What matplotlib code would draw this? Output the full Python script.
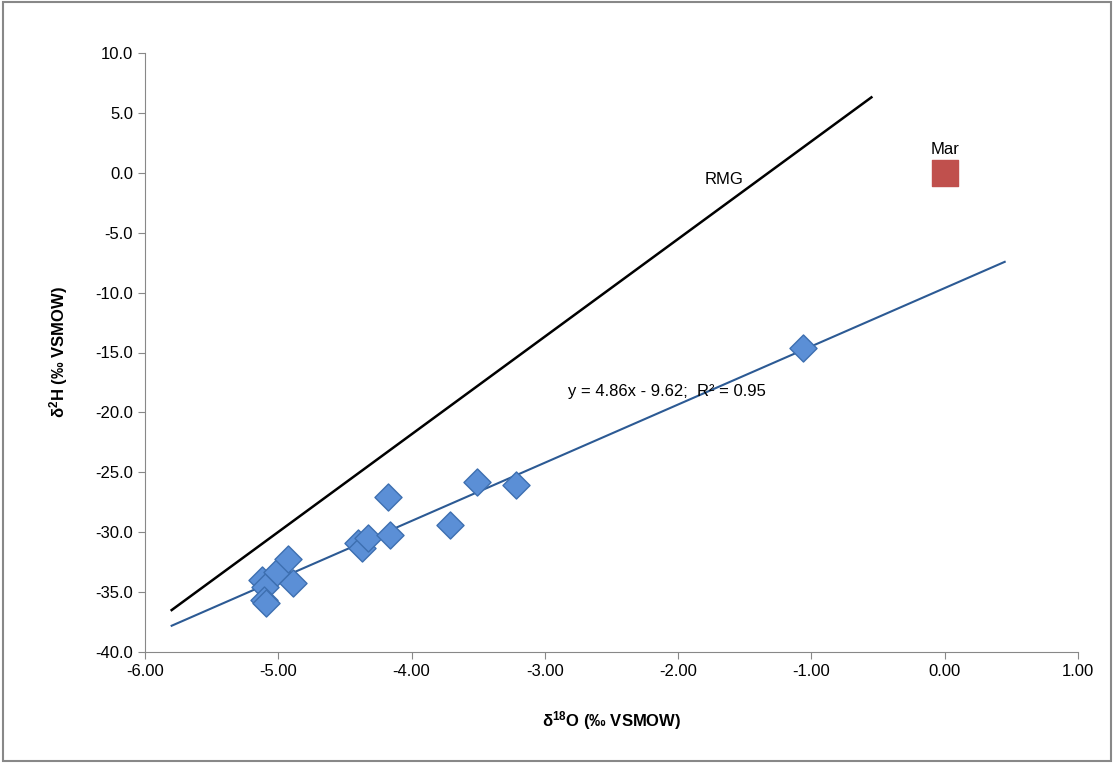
import matplotlib
matplotlib.use("Agg")
import matplotlib.pyplot as plt
import numpy as np

plt.rcParams["font.family"] = ["Liberation Sans", "DejaVu Sans"]
plt.rcParams["mathtext.fontset"] = "custom"
plt.rcParams["mathtext.rm"] = "Liberation Sans"
plt.rcParams["mathtext.bf"] = "Liberation Sans:bold"

d18o = [-5.12, -5.10, -5.11, -5.09, -5.01, -4.93, -4.89, -4.40, -4.37, -4.33,
        -4.18, -4.16, -3.71, -3.51, -3.22, -1.06]
d2h = [-34.0, -34.6, -35.7, -35.9, -33.3, -32.2, -34.2, -30.9, -31.3, -30.5,
       -27.1, -30.2, -29.4, -25.8, -26.1, -14.6]
mar_x, mar_y = [0.0], [0.0]
rmg_x = [-5.8, -0.55]
rmg_y = [-36.5, 6.3]
fit_slope, fit_icpt = 4.86, -9.62
fit_x = np.array([-5.8, 0.45])

fig = plt.figure(figsize=(11.14, 7.63), dpi=100)
fig.patches.append(plt.Rectangle((0.003, 0.003), 0.994, 0.994, transform=fig.transFigure,
                                 fill=False, edgecolor="#888888", linewidth=1.5))
W, H = 1114, 763
ax = fig.add_axes([145 / W, 1 - 652 / H, (1078 - 145) / W, (652 - 53) / H])

ax.plot(rmg_x, rmg_y, color="black", linewidth=1.8)
ax.plot(fit_x, fit_slope * fit_x + fit_icpt, color="#2c5a94", linewidth=1.5)
ax.scatter(d18o, d2h, marker="D", s=190, color="#5b8fd6", edgecolor="#3d6fb0",
           linewidth=1, zorder=3)
ax.scatter(mar_x, mar_y, marker="s", s=330, color="#c0504d", zorder=3)

ax.text(-1.8, -0.9, "RMG", fontsize=12)
ax.text(0.0, 1.6, "Mar", fontsize=12, ha="center")
ax.text(-2.83, -18.6, "y = 4.86x - 9.62;  R\u00b2 = 0.95", fontsize=12)

ax.set_xlim(-6, 1)
ax.set_ylim(-40, 10)
ax.set_xticks(np.arange(-6, 1.01, 1))
ax.set_xticklabels([f"{v:.2f}" for v in np.arange(-6, 1.01, 1)])
ax.set_yticks(np.arange(-40, 10.1, 5))
ax.set_yticklabels([f"{v:.1f}" for v in np.arange(-40, 10.1, 5)])
ax.tick_params(labelsize=12, direction="out", length=5, color="#888888")
for side in ["top", "right"]:
    ax.spines[side].set_visible(False)
for side in ["left", "bottom"]:
    ax.spines[side].set_color("#888888")

ax.set_xlabel(r"$\mathbf{\delta^{18}O}$ (‰ VSMOW)", fontsize=12, fontweight="bold", labelpad=22)
ax.set_ylabel(r"$\mathbf{\delta^{2}H}$ (‰ VSMOW)", fontsize=12, fontweight="bold", labelpad=18)

fig.savefig("out.png", dpi=100)
